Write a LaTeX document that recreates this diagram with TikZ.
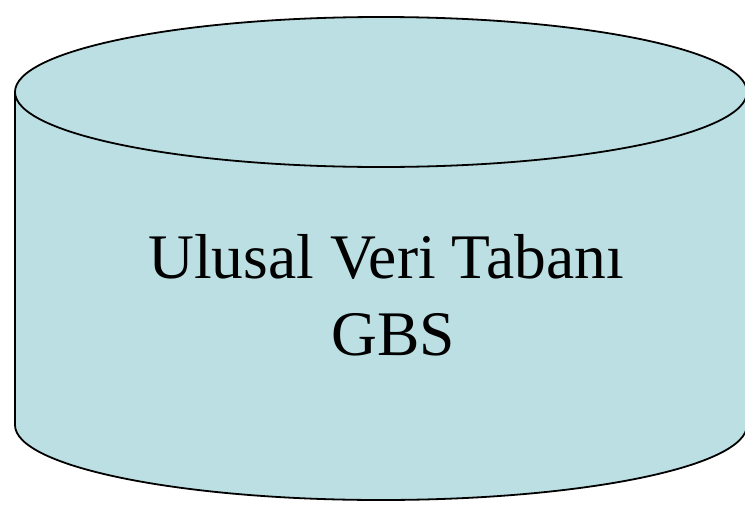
\documentclass[tikz,border=0pt]{standalone}
\usepackage{fontspec}
\setmainfont{Liberation Serif}
\definecolor{cylfill}{RGB}{187,223,227}
\tikzset{
  cylbody/.style={fill=cylfill, draw=black, line width=1.8pt},
  cyledge/.style={draw=black, line width=1.8pt},
  bigtext/.style={align=center, font=\fontsize{63.5}{77}\selectfont, inner sep=0pt}
}
\begin{document}
\begin{tikzpicture}[x=1pt,y=-1pt]
\useasboundingbox (0,0) rectangle (745,504);
% body
\fill[cylfill] (15,92) -- (15,425) arc[start angle=180, end angle=0, x radius=366, y radius=75] -- (747,92) -- cycle;
\draw[cyledge] (15,92) -- (15,425) arc[start angle=180, end angle=0, x radius=366, y radius=75] -- (747,92);
% top ellipse
\draw[cylbody] (381,92) ellipse[x radius=366, y radius=75];
\node[bigtext] (label) at (386,295) {Ulusal Veri Tabanı\\ \hspace*{14pt}GBS};
\end{tikzpicture}
\end{document}
